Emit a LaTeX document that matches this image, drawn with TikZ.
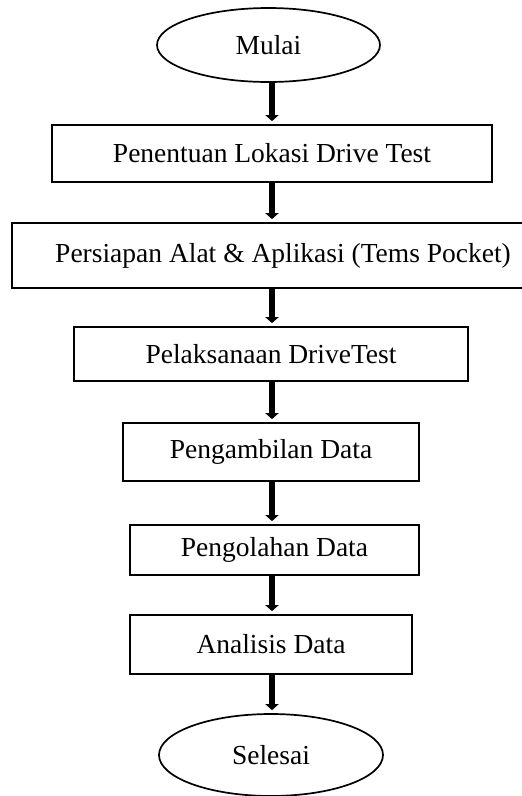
\documentclass[tikz,border=0pt]{standalone}
\usepackage{fontspec}
\setmainfont{Liberation Serif}
\usetikzlibrary{shapes.geometric,arrows.meta}
\begin{document}
\begin{tikzpicture}[x=1pt,y=-1pt,
  every node/.style={font=\fontsize{27.5}{32}\selectfont},
  procbox/.style={draw, line width=1.7pt, rectangle, inner sep=0pt},
  termnode/.style={draw, line width=1.7pt, ellipse, inner sep=0pt},
  flowarrow/.style={line width=6pt, -{Triangle[width=13pt,length=6pt]}, shorten >=3pt}]
\useasboundingbox (0,0) rectangle (522,796);
\node[termnode, minimum width=223pt, minimum height=74pt] (mulai) at (268.5,45) {Mulai};
\node[procbox, minimum width=440pt, minimum height=57pt] (b1) at (272,153.5) {Penentuan Lokasi Drive Test};
\node[procbox, minimum width=542pt, minimum height=65pt] (b2) at (283,255.5) {Persiapan Alat \& Aplikasi (Tems Pocket)};
\node[procbox, minimum width=394pt, minimum height=54pt] (b3) at (271,354) {Pelaksanaan DriveTest};
\node[procbox, minimum width=296pt, minimum height=58pt] (b4) at (271,452) {Pengambilan Data};
\node[procbox, minimum width=289pt, minimum height=50pt] (b5) at (274.5,550) {Pengolahan Data};
\node[procbox, minimum width=282pt, minimum height=59pt] (b6) at (271,644.5) {Analisis Data};
\node[termnode, minimum width=224pt, minimum height=82pt] (selesai) at (271,755) {Selesai};
\coordinate (ax) at (272,0);
\draw[flowarrow] (ax |- mulai.south) -- (ax |- b1.north);
\draw[flowarrow] (ax |- b1.south) -- (ax |- b2.north);
\draw[flowarrow] (ax |- b2.south) -- (ax |- b3.north);
\draw[flowarrow] (ax |- b3.south) -- (ax |- b4.north);
\draw[flowarrow] (ax |- b4.south) -- (ax |- b5.north);
\draw[flowarrow] (ax |- b5.south) -- (ax |- b6.north);
\draw[flowarrow] (ax |- b6.south) -- (ax |- selesai.north);
\end{tikzpicture}
\end{document}
